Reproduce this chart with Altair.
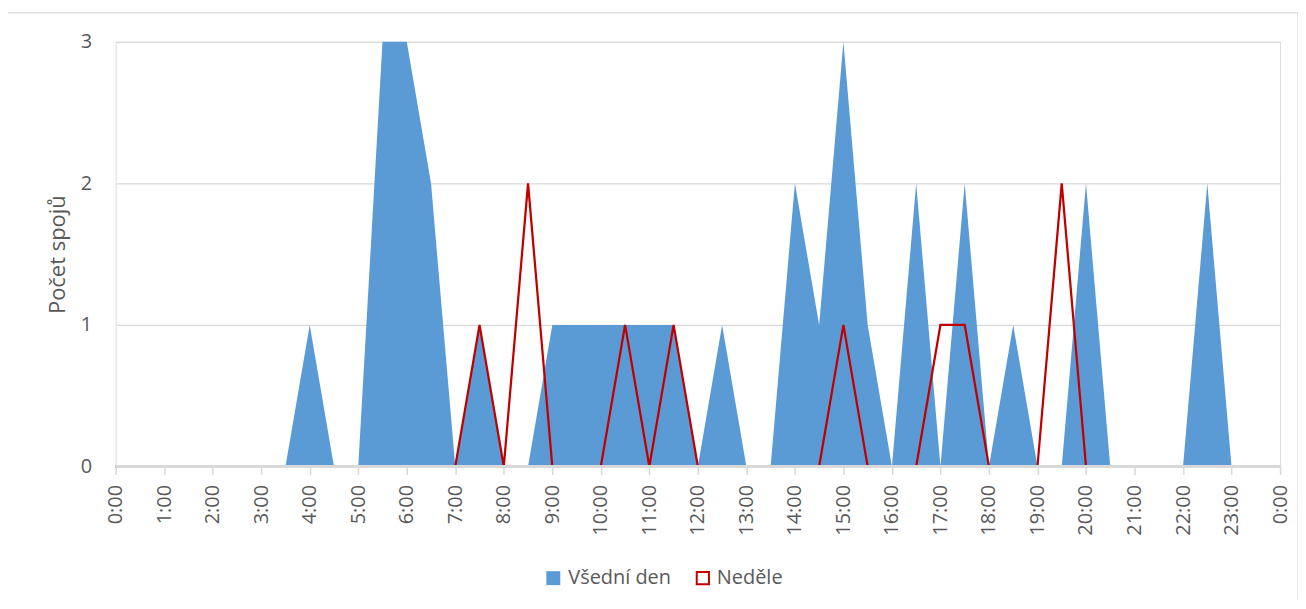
import altair as alt
import pandas as pd

# Half-hour slots 0:00 ... 24:00 (49 points)
slots = list(range(49))
hour_labels = ["0:00", "1:00", "2:00", "3:00", "4:00", "5:00", "6:00", "7:00",
               "8:00", "9:00", "10:00", "11:00", "12:00", "13:00", "14:00",
               "15:00", "16:00", "17:00", "18:00", "19:00", "20:00", "21:00",
               "22:00", "23:00", "0:00"]

vsedni_den = [0, 0, 0, 0, 0, 0, 0, 0, 1, 0,
              0, 3, 3, 2, 0, 1, 0, 0, 1, 1,
              1, 1, 1, 1, 0, 1, 0, 0, 2, 1,
              3, 1, 0, 2, 0, 2, 0, 1, 0, 0,
              2, 0, 0, 0, 0, 2, 0, 0, 0]
nedele = [0, 0, 0, 0, 0, 0, 0, 0, 0, 0,
          0, 0, 0, 0, 0, 1, 0, 2, 0, 0,
          0, 1, 0, 1, 0, 0, 0, 0, 0, 0,
          1, 0, 0, 0, 1, 1, 0, 0, 0, 2,
          0, 0, 0, 0, 0, 0, 0, 0, 0]

series_names = ["Všední den", "Neděle"]
y_title = "Počet spojů"

BLUE = "#5B9BD5"
RED = "#C00000"
GREY = "#D9D9D9"
TEXT = "#595959"
FONT = "Open Sans"

W, H = 1168, 426

df_a = pd.DataFrame({"slot": slots, "value": vsedni_den, "series": series_names[0]})
df_l = pd.DataFrame({"slot": slots, "value": nedele, "series": series_names[1]})

label_arr = "[" + ",".join("'" + s + "'" for s in hour_labels) + "]"
label_expr = f"datum.value % 2 == 0 ? {label_arr}[datum.value / 2] : ''"

x_enc = alt.X(
    "slot:Q",
    scale=alt.Scale(domain=[0, 48], nice=False, zero=False),
    axis=alt.Axis(
        values=slots, labelExpr=label_expr, labelAngle=270, labelOverlap=False,
        labelFlush=False, grid=False, domain=False, ticks=True, tickSize=8,
        tickColor=GREY, tickWidth=1.5, labelPadding=10, labelFontSize=20,
        labelColor=TEXT, labelFont=FONT, title=None,
    ),
)
y_enc = alt.Y(
    "value:Q",
    scale=alt.Scale(domain=[0, 3], nice=False),
    axis=alt.Axis(
        values=[0, 1, 2, 3], format="d", grid=True, gridColor=GREY, gridWidth=1.3,
        domain=False, ticks=False, tickSize=0, labelPadding=24, labelFontSize=20,
        labelColor=TEXT, labelFont=FONT, title=y_title, titleFontSize=22,
        titleFont=FONT, titleColor=TEXT, titleFontWeight="normal", titleX=-46,
    ),
)

frame = alt.Chart(pd.DataFrame({"k": [0]})).mark_rect(
    fill="transparent", stroke=GREY, strokeWidth=1.3
).encode(
    x=alt.value(-109), x2=alt.value(W + 18), y=alt.value(-29), y2=alt.value(620)
)

area = alt.Chart(df_a).mark_area(interpolate="linear").encode(
    x=x_enc, y=y_enc,
    fill=alt.Fill(
        "series:N",
        scale=alt.Scale(domain=[series_names[0]], range=[BLUE]),
        legend=alt.Legend(
            title=None, orient="none", legendX=429, legendY=528,
            symbolType="square", symbolSize=196, symbolStrokeWidth=0,
            labelFontSize=20, labelColor=TEXT, labelFont=FONT, labelOffset=5,
            padding=0,
        ),
    ),
)

line = alt.Chart(df_l).mark_line(interpolate="linear", strokeWidth=2.25).encode(
    x="slot:Q", y="value:Q",
    stroke=alt.Stroke(
        "series:N",
        scale=alt.Scale(domain=[series_names[1]], range=[RED]),
        legend=alt.Legend(
            title=None, orient="none", legendX=579, legendY=528,
            symbolType="square", symbolSize=150, symbolStrokeWidth=2,
            symbolFillColor="white",
            labelFontSize=20, labelColor=TEXT, labelFont=FONT, labelOffset=4,
            padding=0,
        ),
    ),
)

baseline = alt.Chart(pd.DataFrame({"v": [0]})).mark_rule(
    color=GREY, strokeWidth=2.8
).encode(y=alt.Y("v:Q"))

chart = alt.layer(frame, area, line, baseline).properties(
    width=W, height=H,
    autosize=alt.AutoSizeParams(type="none"),
    padding={"left": 108, "top": 33, "right": 18, "bottom": 132},
).configure_view(stroke=None).configure(font=FONT)

chart.save("out.html", embed_options={"renderer": "svg", "actions": False})
